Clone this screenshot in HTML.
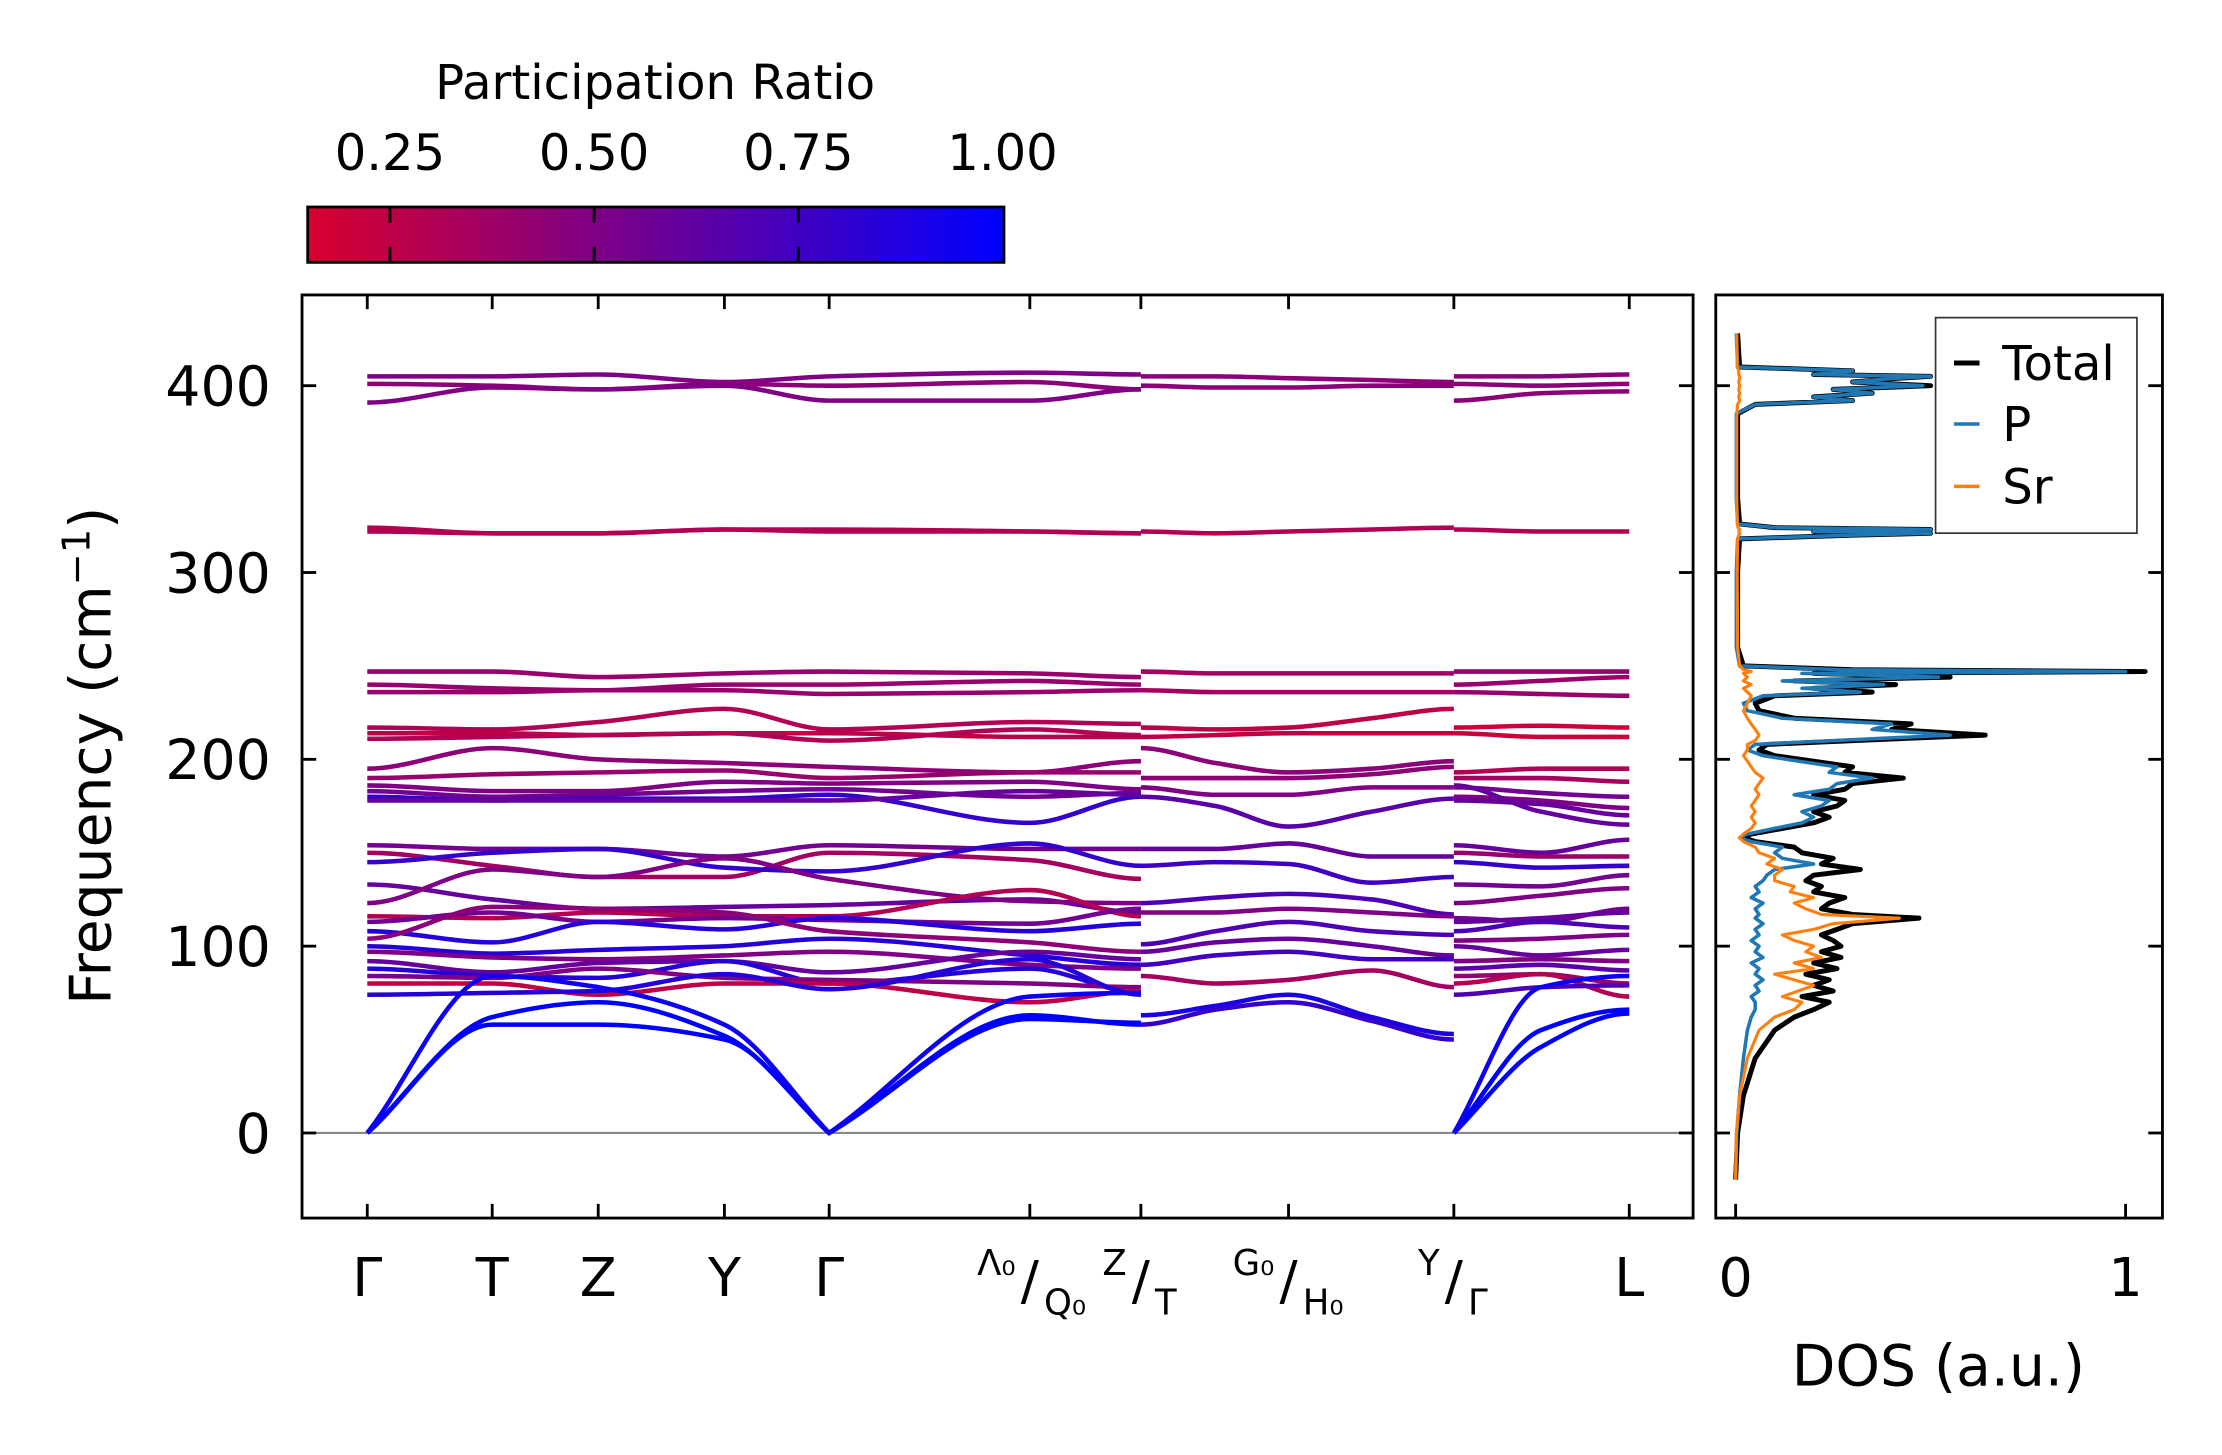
<!DOCTYPE html>
<html><head><meta charset="utf-8"><style>
html,body{margin:0;padding:0;background:#fff;}
svg{display:block;}
text{font-family:"DejaVu Sans","Liberation Sans",sans-serif;fill:#000;}
</style></head><body>
<svg id="chart" width="2222" height="1455" viewBox="0 0 1567 1026.1" preserveAspectRatio="none" xmlns="http://www.w3.org/2000/svg">
<defs>
<linearGradient id="cmap" x1="0" x2="1" y1="0" y2="0">
<stop offset="0" stop-color="rgb(216,0,46)"/><stop offset="1" stop-color="rgb(0,0,255)"/>
</linearGradient>
<clipPath id="mainClip"><rect x="213" y="208" width="981" height="651"/></clipPath>
<clipPath id="dosClip"><rect x="1210" y="208" width="315" height="651"/></clipPath>
</defs>
<g id="colorbar">
<text x="462" y="70" font-size="34" text-anchor="middle">Participation Ratio</text>
<rect x="217" y="146" width="491" height="39" fill="url(#cmap)" stroke="#000" stroke-width="2"/>
<g id="cbTicks"></g>
</g>
<g id="mainAxes">
<line x1="213" x2="1194" y1="799" y2="799" stroke="#888" stroke-width="1.5"/>
<g id="bands" clip-path="url(#mainClip)"></g>
<rect x="213" y="208" width="981" height="651" fill="none" stroke="#000" stroke-width="2"/>
<g id="mainTicks"></g>
<text transform="translate(78,533) rotate(-90)" font-size="40" text-anchor="middle">Frequency (cm<tspan font-size="27" dy="-15">−1</tspan><tspan dy="15">)</tspan></text>
</g>
<g id="dosAxes">
<g id="dos" clip-path="url(#dosClip)"></g>
<rect x="1210" y="208" width="315" height="651" fill="none" stroke="#000" stroke-width="2"/>
<g id="dosTicks"></g>
<text x="1367" y="977" font-size="40" text-anchor="middle">DOS (a.u.)</text>
<g>
<rect x="1365" y="224" width="142" height="152" fill="#fff" stroke="#333" stroke-width="1.2"/>
<line x1="1378" x2="1396" y1="256" y2="256" stroke="#000" stroke-width="3.5"/>
<text x="1412" y="268" font-size="34">Total</text>
<line x1="1378" x2="1396" y1="299" y2="299" stroke="#1f77b4" stroke-width="2.5"/>
<text x="1412" y="311" font-size="34">P</text>
<line x1="1378" x2="1396" y1="343" y2="343" stroke="#ff7f0e" stroke-width="2.5"/>
<text x="1412" y="355" font-size="34">Sr</text>
</g>
</g>
</svg>
<script>
// ---------- data ----------
const yTicks = [0, 100, 200, 300, 400];
const kTicks = [0, 0.099, 0.183, 0.283, 0.366, 0.525, 0.613, 0.730, 0.861, 1.0];
const cbTicks = [0.25, 0.50, 0.75, 1.00];
const cbTickLabels = ["0.25", "0.50", "0.75", "1.00"];
const dosTicks = [0, 1];
const seg1K = [0, 0.099, 0.183, 0.283, 0.366, 0.525, 0.613];
const seg2K = [0.613, 0.672, 0.730, 0.796, 0.861];
const seg3K = [0.861, 0.93, 1.0];
const seg1Bands = [
 [405,405,406,402,405,407,406],[401,400,398,401,400,402,398],[391,399,398,400,392,392,398],
 [324,321,321,323,323,322,321],[322,321,321,323,322,322,321],
 [247,247,244,246,247,246,244],[240,238,237,240,240,242,240],[236,236,237,237,235,236,237],
 [217,216,220,227,216,220,219],[214,214,213,214,214,212,212],[211,212,213,214,210,216,213],
 [195,206,200,198,196,193,199],[190,192,193,194,190,193,193],[186,183,183,188,187,188,184],
 [183,180,181,183,184,180,182],[180,178,179,179,181,166,180],[178,178,178,178,178,183,181],
 [154,152,152,148,154,152,152],[150,143,137,137,150,146,136],[145,150,152,142,140,155,143],
 [133,125,120,121,122,125,118],[123,141,137,147,136,124,123],[116,115,118,116,116,130,116],
 [113,118,113,115,114,112,120],[108,102,113,109,115,108,112],[104,121,120,118,108,102,97],
 [100,96,98,100,104,95,90],[97,94,93,95,97,90,88],[92,86,91,92,86,97,93],
 [88,84,83,92,80,88,75],[84,83,88,83,82,80,78],[80,80,74,80,80,70,76],[74,75,76,85,77,93,74],
 [0,58,58,50,0,63,58],[0,62,70,52,0,61,59],[0,84,78,58,0,73,75]
];
const seg1PR = [0.5,0.45,0.5, 0.3,0.3, 0.4,0.4,0.4, 0.3,0.25,0.3, 0.45,0.4,0.5,
 0.55,0.8,0.6, 0.55,0.35,0.8, 0.6,0.5,0.3, 0.55,0.85,0.45, 0.85,0.5,0.6, 0.85,0.5,0.25,0.85,
 1.0,1.0,0.95];
const seg2Bands = [
 [405,405,404,403,402],[400,399,399,400,400],[322,321,322,323,324],[247,246,246,246,246],
 [237,236,236,236,236],[217,216,217,222,227],[212,213,214,214,214],[206,198,193,195,199],
 [190,190,190,192,196],[185,181,181,185,185],[180,175,164,172,179],
 [152,152,155,148,148],[143,145,144,134,137],[123,126,128,125,117],[118,118,120,118,116],
 [101,108,113,108,106],[97,102,104,100,95],[90,95,97,93,93],[84,80,82,87,78],
 [63,68,74,62,53],[58,66,70,60,50]
];
const seg2PR = [0.45,0.45,0.3,0.35,0.35,0.25,0.25,0.45,0.45,0.5,0.65,0.6,0.75,0.7,0.5,
 0.7,0.6,0.75,0.35,0.9,0.8];
const seg3Bands = [
 [405,405,406],[401,400,401],[392,396,397],[323,322,322],[247,247,247],[240,242,244],
 [236,235,234],[217,218,217],[214,212,212],[193,195,195],[190,190,188],[185,182,180],
 [180,178,174],[178,176,170],[186,172,165],
 [154,150,157],[150,148,148],[145,142,143],[133,132,138],[123,127,131],[115,113,120],
 [113,115,118],[108,113,110],[103,104,106],[100,95,98],[92,93,92],[88,90,87],[84,85,80],
 [80,85,73],[74,78,79],[0,55,66],[0,46,64],[0,78,84]
];
const seg3PR = [0.45,0.45,0.45,0.3,0.4,0.4,0.4,0.2,0.2,0.3,0.35,0.55,0.5,0.6,0.6,
 0.6,0.4,0.8,0.55,0.5,0.55,0.6,0.7,0.5,0.6,0.5,0.65,0.4,0.3,0.7,1.0,1.0,0.95];
const dosFreq = [-25,0,20,40,55,62,66,70,73,76,79,82,85,88,91,94,97,100,103,106,109,112,115,117,120,123,126,129,132,135,138,141,144,147,150,153,156,158,160,163,166,169,172,175,178,181,184,187,190,193,196,199,202,205,208,210,213,216,219,222,226,230,234,236,238,240,242,244,246,247,248,250,260,300,318,320,321,322,323,324,326,340,385,390,392,394,396,398,400,402,404,405,406,408,410,428];
const dosTotal = [0,0.005,0.02,0.05,0.1,0.15,0.2,0.24,0.17,0.25,0.2,0.24,0.18,0.26,0.2,0.27,0.22,0.27,0.25,0.22,0.26,0.3,0.47,0.3,0.22,0.24,0.28,0.2,0.22,0.18,0.2,0.32,0.22,0.25,0.17,0.15,0.05,0.02,0.04,0.12,0.2,0.24,0.2,0.26,0.28,0.2,0.28,0.3,0.43,0.28,0.3,0.2,0.1,0.06,0.08,0.3,0.64,0.4,0.45,0.15,0.06,0.05,0.1,0.35,0.2,0.41,0.15,0.55,0.2,1.05,0.3,0.02,0.005,0.005,0.01,0.3,0.5,0.2,0.5,0.1,0.01,0.005,0.005,0.05,0.3,0.2,0.35,0.25,0.5,0.3,0.42,0.5,0.2,0.3,0.01,0.005];
const dosP = [0,0.003,0.01,0.02,0.03,0.04,0.05,0.05,0.04,0.06,0.05,0.07,0.05,0.06,0.04,0.07,0.05,0.06,0.04,0.06,0.05,0.07,0.05,0.06,0.05,0.07,0.04,0.06,0.05,0.07,0.08,0.1,0.2,0.12,0.1,0.12,0.04,0.01,0.03,0.1,0.17,0.2,0.17,0.22,0.24,0.15,0.24,0.26,0.35,0.24,0.26,0.16,0.07,0.03,0.05,0.25,0.55,0.35,0.4,0.12,0.03,0.02,0.07,0.32,0.17,0.38,0.12,0.52,0.17,1.0,0.27,0.01,0.002,0.002,0.005,0.3,0.5,0.2,0.5,0.1,0.005,0.002,0.002,0.05,0.3,0.2,0.35,0.25,0.48,0.3,0.41,0.5,0.2,0.3,0.005,0.002];
const dosSr = [0,0.002,0.01,0.03,0.06,0.1,0.15,0.17,0.12,0.16,0.2,0.15,0.1,0.2,0.15,0.22,0.18,0.2,0.15,0.12,0.2,0.25,0.42,0.22,0.18,0.15,0.2,0.14,0.15,0.1,0.1,0.12,0.08,0.1,0.06,0.05,0.02,0.01,0.02,0.04,0.05,0.04,0.05,0.04,0.05,0.06,0.05,0.06,0.07,0.05,0.04,0.03,0.02,0.03,0.03,0.05,0.06,0.05,0.04,0.03,0.02,0.03,0.04,0.03,0.02,0.04,0.02,0.03,0.02,0.04,0.02,0.01,0.005,0.004,0.005,0.008,0.01,0.008,0.01,0.006,0.004,0.003,0.003,0.005,0.01,0.008,0.01,0.008,0.01,0.008,0.01,0.01,0.008,0.008,0.004,0.003];

// ---------- scales ----------
const NS = "http://www.w3.org/2000/svg";
function yS(v){ return 799 - 1.3175 * v; }
function xK(k){ return 259 + 890 * k; }
function xD(v){ return 1224 + 275 * v; }
function cbX(v){ return 275 + (v - 0.25) * 576; }
function cmap(pr){
  let t = (pr - 0.149) / 0.851; t = Math.max(0, Math.min(1, t));
  return "rgb(" + Math.round(216*(1-t)) + ",0," + Math.round(46*(1-t) + 255*t) + ")";
}
function mk(tag, attrs, parent){
  const e = document.createElementNS(NS, tag);
  for (const a in attrs) e.setAttribute(a, attrs[a]);
  parent.appendChild(e); return e;
}
// monotone cubic; zero-frequency (Gamma) nodes get straight one-sided tangents
function smoothPath(ks, vals){
  const n = ks.length, xs = ks.map(xK), ys = vals.map(yS);
  const sec = [];
  for (let i = 0; i < n - 1; i++) sec.push((vals[i+1] - vals[i]) / (ks[i+1] - ks[i]));
  const m = [];
  for (let i = 0; i < n; i++){
    if (i === 0) m.push(sec[0]);
    else if (i === n - 1) m.push(sec[n-2]);
    else if (sec[i-1] * sec[i] <= 0) m.push(0);
    else m.push(2 / (1/sec[i-1] + 1/sec[i]));
  }
  if (n > 2){ if (vals[0] !== 0) m[0] = 0; if (vals[n-1] !== 0) m[n-1] = 0; }
  let d = "M" + xs[0].toFixed(1) + "," + ys[0].toFixed(1);
  for (let i = 0; i < n - 1; i++){
    const h = ks[i+1] - ks[i];
    const mi = vals[i] === 0 ? sec[i] : m[i];
    const mj = vals[i+1] === 0 ? sec[i] : m[i+1];
    const c1v = vals[i] + mi * h / 3, c2v = vals[i+1] - mj * h / 3;
    d += " C" + xK(ks[i] + h/3).toFixed(1) + "," + yS(c1v).toFixed(1) + " " +
         xK(ks[i+1] - h/3).toFixed(1) + "," + yS(c2v).toFixed(1) + " " +
         xs[i+1].toFixed(1) + "," + ys[i+1].toFixed(1);
  }
  return d;
}

// ---------- bands ----------
const bandsG = document.getElementById("bands");
function drawSeg(ks, bands, prs, name){
  bands.forEach(function(b, i){
    const p = mk("path", {d: smoothPath(ks, b), fill: "none", stroke: cmap(prs[i]), "stroke-width": 3.2, "stroke-linecap": "butt"}, bandsG);
    
    
  });
}
drawSeg(seg1K, seg1Bands, seg1PR, "segment1");
drawSeg(seg2K, seg2Bands, seg2PR, "segment2");
drawSeg(seg3K, seg3Bands, seg3PR, "segment3");

// ---------- main ticks ----------
const mt = document.getElementById("mainTicks");
yTicks.forEach(function(v){
  const y = yS(v);
  mk("line", {x1:213, x2:223, y1:y, y2:y, stroke:"#000", "stroke-width":2}, mt);
  mk("line", {x1:1184, x2:1194, y1:y, y2:y, stroke:"#000", "stroke-width":2}, mt);
  const t = mk("text", {x:191, y:y+14, "font-size":39, "text-anchor":"end"}, mt);
  t.textContent = String(v);
  
  
});
kTicks.forEach(function(k){
  const x = xK(k);
  mk("line", {x1:x, x2:x, y1:208, y2:218, stroke:"#000", "stroke-width":2}, mt);
  mk("line", {x1:x, x2:x, y1:849, y2:859, stroke:"#000", "stroke-width":2}, mt);
});
const xLab = [["Γ",0],["T",1],["Z",2],["Y",3],["Γ",4],["L",9]];
xLab.forEach(function(p){
  const t = mk("text", {x:xK(kTicks[p[1]]), y:914, "font-size":38, "text-anchor":"middle"}, mt);
  t.textContent = p[0];
  
  
});
const fracLab = [["Λ₀","Q₀",5],["Z","T",6],["G₀","H₀",7],["Y","Γ",8]];
fracLab.forEach(function(p){
  const x = xK(kTicks[p[2]]);
  const g = mk("g", {}, mt);
  
  
  const a = mk("text", {x:x-10, y:899, "font-size":25, "text-anchor":"end"}, g); a.textContent = p[0];
  const s = mk("text", {x:x, y:916, "font-size":38, "text-anchor":"middle"}, g); s.textContent = "/";
  const b = mk("text", {x:x+10, y:927, "font-size":25, "text-anchor":"start"}, g); b.textContent = p[1];
});

// ---------- colorbar ticks ----------
const cbg = document.getElementById("cbTicks");
cbTicks.forEach(function(v, i){
  const x = cbX(v);
  if (v < 1){
    mk("line", {x1:x, x2:x, y1:146, y2:157, stroke:"#000", "stroke-width":2}, cbg);
    mk("line", {x1:x, x2:x, y1:174, y2:185, stroke:"#000", "stroke-width":2}, cbg);
  }
  const t = mk("text", {x:x, y:120, "font-size":35, "text-anchor":"middle"}, cbg);
  t.textContent = cbTickLabels[i];
  
  
});

// ---------- DOS ----------
const dg = document.getElementById("dos");
function dosLine(vals, color, w, name){
  const pts = dosFreq.map(function(f, i){ return xD(vals[i]).toFixed(1) + "," + yS(f).toFixed(1); }).join(" ");
  const p = mk("polyline", {points:pts, fill:"none", stroke:color, "stroke-width":w, "stroke-linejoin":"round"}, dg);
  
  
}
dosLine(dosTotal, "#000", 3.5, "dos-total-line");
dosLine(dosP, "#1f77b4", 2.5, "dos-p-line");
dosLine(dosSr, "#ff7f0e", 2.2, "dos-sr-line");
const dt = document.getElementById("dosTicks");
yTicks.forEach(function(v){
  const y = yS(v);
  mk("line", {x1:1210, x2:1220, y1:y, y2:y, stroke:"#000", "stroke-width":2}, dt);
  mk("line", {x1:1515, x2:1525, y1:y, y2:y, stroke:"#000", "stroke-width":2}, dt);
});
dosTicks.forEach(function(v){
  const x = xD(v);
  mk("line", {x1:x, x2:x, y1:849, y2:859, stroke:"#000", "stroke-width":2}, dt);
  const t = mk("text", {x:x, y:914, "font-size":38, "text-anchor":"middle"}, dt);
  t.textContent = String(v);
  
  
});
</script>
</body></html>
